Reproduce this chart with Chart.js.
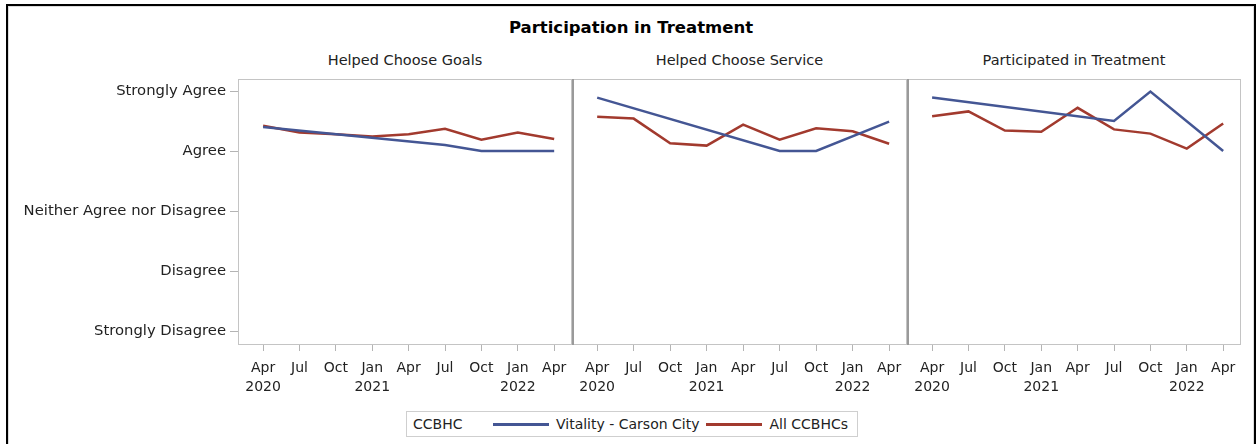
<!DOCTYPE html>
<html lang="en">
<head>
<meta charset="UTF-8">
<title>Participation in Treatment</title>
<script src="https://cdnjs.cloudflare.com/ajax/libs/Chart.js/4.4.0/chart.umd.min.js"></script>
<style>
    * { margin: 0; padding: 0; box-sizing: border-box; }

    body {
        width: 1257px;
        height: 444px;
        background: #fff;
        overflow: hidden;
        position: relative;
        font-family: 'DejaVu Sans', sans-serif;
        color: #222;
    }

    .frame {
        position: absolute;
        left: 6px;
        top: 4px;
        width: 1250px;
        height: 470px;
        border: 2px solid #000;
        box-shadow: inset 0 0 0 1px #dcdcdc;
    }

    .title {
        position: absolute;
        top: 18px;
        left: 6px;
        width: 1250px;
        text-align: center;
        font-weight: bold;
        font-size: 16.5px;
        color: #000;
    }

    .panel-title {
        position: absolute;
        top: 52px;
        font-size: 14.5px;
        text-align: center;
        white-space: nowrap;
    }

    .panel {
        position: absolute;
        top: 74px;
        height: 331px;
    }

    /* Legend box under the panels */
    .legend {
        position: absolute;
        left: 406px;
        top: 411px;
        width: 452px;
        height: 26px;
        border: 1px solid #cfcfcf;
        display: flex;
        align-items: center;
        font-size: 14px;
        padding-left: 6px;
    }

    .legend .lg-title { width: 80px; }
    .legend .swatch { width: 56px; height: 3px; margin-right: 7px; }
    .legend .lg-label { margin-right: 7px; }
</style>
</head>
<body>

<div class="frame"></div>
<div class="title">Participation in Treatment</div>

<div class="panel-title" style="left:238px;width:334px">Helped Choose Goals</div>
<div class="panel-title" style="left:572px;width:335px">Helped Choose Service</div>
<div class="panel-title" style="left:907px;width:334px">Participated in Treatment</div>

<div class="panel" style="left:8px;width:564px"><canvas id="goalsChart"></canvas></div>
<div class="panel" style="left:572px;width:335px"><canvas id="serviceChart"></canvas></div>
<div class="panel" style="left:907px;width:334px"><canvas id="treatmentChart"></canvas></div>

<div class="legend" id="legend"></div>

<script>
    // quarters from Apr 2020 to Apr 2022 (x = 0..8)
    const quarterMonths = ['Apr', 'Jul', 'Oct', 'Jan', 'Apr', 'Jul', 'Oct', 'Jan', 'Apr'];
    const quarterYears = ['2020', '', '', '2021', '', '', '', '2022', ''];
    const ratingLabels = ['Strongly Disagree', 'Disagree', 'Neither Agree nor Disagree', 'Agree', 'Strongly Agree'];

    const seriesNames = ['Vitality - Carson City', 'All CCBHCs'];
    const seriesColors = ['#445694', '#A23A2E'];

    // Vitality only reported at a few quarters
    const vitalityQuarters = [0, 5, 6, 8];
    const allQuarters = [0, 1, 2, 3, 4, 5, 6, 7, 8];

    const goalsVitality = [4.40, 4.10, 4.00, 4.00];
    const goalsAll = [4.42, 4.31, 4.28, 4.24, 4.28, 4.37, 4.19, 4.31, 4.20];

    const serviceVitality = [4.89, 4.00, 4.00, 4.49];
    const serviceAll = [4.57, 4.54, 4.13, 4.09, 4.44, 4.19, 4.38, 4.33, 4.12];

    const treatmentVitality = [4.89, 4.50, 4.99, 4.00];
    const treatmentAll = [4.58, 4.66, 4.34, 4.32, 4.72, 4.36, 4.29, 4.04, 4.46];

    const toPoints = (xs, ys) => xs.map((x, i) => ({ x: x, y: ys[i] }));

    // border round each panel, darker divider on the left of panels 2 and 3
    const panelFrame = {
        id: 'panelFrame',
        afterDraw(chart, args, opts) {
            const ctx = chart.ctx;
            const a = chart.chartArea;
            ctx.save();
            ctx.strokeStyle = '#c4c4c4';
            ctx.lineWidth = 1;
            ctx.strokeRect(a.left + 0.5, a.top + 0.5, a.right - a.left - 1, a.bottom - a.top - 1);
            if (opts.divider) {
                ctx.strokeStyle = '#9a9a9a';
                ctx.lineWidth = 2;
                ctx.beginPath();
                ctx.moveTo(a.left + 1, a.top);
                ctx.lineTo(a.left + 1, a.bottom);
                ctx.stroke();
            }
            ctx.restore();
        }
    };

    function makePanel(id, vitality, all, showY, divider) {
        return new Chart(document.getElementById(id), {
            type: 'line',
            data: {
                datasets: [
                    { label: seriesNames[0], data: toPoints(vitalityQuarters, vitality), borderColor: seriesColors[0] },
                    { label: seriesNames[1], data: toPoints(allQuarters, all), borderColor: seriesColors[1] }
                ]
            },
            options: {
                responsive: true,
                maintainAspectRatio: false,
                animation: false,
                layout: { padding: { top: 5, right: 0, bottom: 0, left: 0 } },
                elements: {
                    line: { borderWidth: 2.5, tension: 0, fill: false },
                    point: { radius: 0, hoverRadius: 0 }
                },
                plugins: {
                    legend: { display: false },
                    tooltip: { enabled: false },
                    panelFrame: { divider: divider }
                },
                scales: {
                    x: {
                        type: 'linear',
                        min: -0.69,
                        max: 8.49,
                        afterFit: s => {
                            s.height = 60;
                            s.paddingLeft = 0;
                            s.paddingRight = 0;
                        },
                        afterBuildTicks: s => { s.ticks = allQuarters.map(q => ({ value: q })); },
                        border: { display: false },
                        grid: { drawOnChartArea: false, drawTicks: true, tickLength: 6, color: '#b4b4b4' },
                        ticks: {
                            autoSkip: false,
                            maxRotation: 0,
                            padding: 8,
                            color: '#222',
                            font: { family: 'DejaVu Sans', size: 14, lineHeight: 1.35 },
                            callback: v => [quarterMonths[v], quarterYears[v]]
                        }
                    },
                    y: {
                        display: showY,
                        min: 0.767,
                        max: 5.2,
                        afterFit: s => {
                            s.width = showY ? 230 : 0;
                            s.paddingTop = 0;
                            s.paddingBottom = 0;
                        },
                        afterBuildTicks: s => { s.ticks = [1, 2, 3, 4, 5].map(v => ({ value: v })); },
                        border: { display: false },
                        grid: { drawOnChartArea: false, drawTicks: true, tickLength: 8, color: '#b4b4b4' },
                        ticks: {
                            padding: 4,
                            color: '#222',
                            font: { family: 'DejaVu Sans', size: 14.8 },
                            callback: v => ratingLabels[v - 1]
                        }
                    }
                }
            },
            plugins: [panelFrame]
        });
    }

    makePanel('goalsChart', goalsVitality, goalsAll, true, false);
    makePanel('serviceChart', serviceVitality, serviceAll, false, true);
    makePanel('treatmentChart', treatmentVitality, treatmentAll, false, true);

    // legend
    const legend = document.getElementById('legend');
    legend.innerHTML = '<span class="lg-title">CCBHC</span>' + seriesNames.map((name, i) =>
        '<span class="swatch" style="background:' + seriesColors[i] + '"></span>' +
        '<span class="lg-label">' + name + '</span>').join('');
</script>
</body>
</html>
